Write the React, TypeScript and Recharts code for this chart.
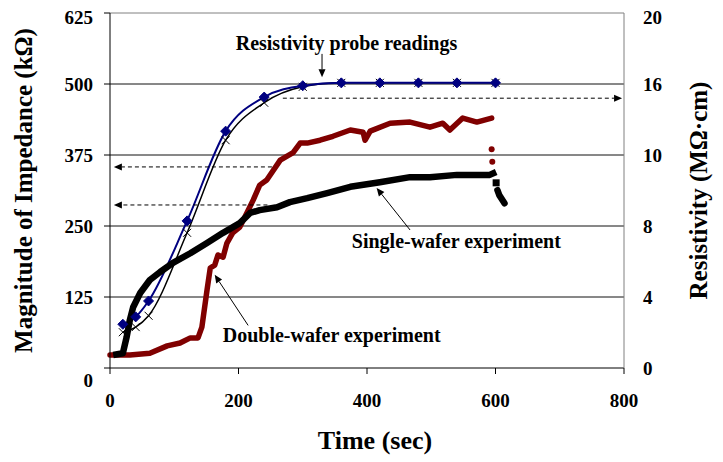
import {
  ComposedChart, Line, XAxis, YAxis, ReferenceLine, ReferenceDot,
} from "recharts"

const FONT = "'Liberation Serif', 'Times New Roman', serif"

const timeTicks = [0, 200, 400, 600, 800]
const impedanceTicks = [0, 125, 250, 375, 500, 625]
const resistivityLabels = ["0", "4", "8", "10", "16", "20"]
const gridValues = [125, 250, 375, 500]

// resistivity probe readings (two fitted curves)
const probeTimes = [20, 40, 60, 120, 180, 240, 300, 360, 420, 480, 540, 600]
const probeBlue = [77, 90, 118, 259, 417, 477, 497, 502, 502, 502, 502, 502]
const probeBlack = [63, 72, 92, 238, 401, 467, 495, 502, 502, 502, 502, 502]

// double-wafer experiment
const doubleTimes = [0, 31, 62, 89, 109, 125, 137, 143, 151, 156, 163, 168, 176, 182, 191, 202, 213, 223, 233, 244, 265, 285, 296, 307, 327, 347, 374, 394, 397, 405, 436, 467, 498, 518, 529, 549, 571, 594]
const doubleValues = [23, 23, 26, 39, 44, 53, 53, 72, 137, 176, 181, 199, 195, 220, 238, 248, 273, 296, 322, 331, 366, 379, 396, 396, 401, 408, 419, 415, 401, 417, 431, 433, 424, 431, 419, 440, 433, 440]
const doubleTailTimes = [594, 595]
const doubleTailValues = [385, 363]

// single-wafer experiment
const singleTimes = [5, 20, 26, 31, 36, 47, 62, 78, 98, 125, 151, 176, 202, 218, 233, 260, 280, 307, 338, 374, 420, 467, 498, 540, 560, 591, 601]
const singleValues = [23, 26, 55, 85, 107, 132, 155, 169, 185, 202, 220, 238, 255, 273, 278, 283, 292, 299, 308, 319, 327, 336, 336, 340, 340, 340, 345]
const singleTailTimes = [603, 606, 610, 614]
const singleTailValues = [313, 304, 297, 290]
const singleDropTimes = [601]
const singleDropValues = [326]

const zip = (ts: number[], vs: number[]) => ts.map((t, i) => ({ t, v: vs[i] }))

const blueData = zip(probeTimes, probeBlue)
const blackProbeData = zip(probeTimes, probeBlack)
const doubleData = zip(doubleTimes, doubleValues)
const doubleTail = zip(doubleTailTimes, doubleTailValues)
const singleData = zip(singleTimes, singleValues)
const singleTail = zip(singleTailTimes, singleTailValues)
const singleDrop = zip(singleDropTimes, singleDropValues)

const Diamond = (p: any) => {
  const { cx, cy, index } = p
  const s = 5
  return <polygon key={`dm-${index}`} points={`${cx},${cy - s} ${cx + s},${cy} ${cx},${cy + s} ${cx - s},${cy}`} fill="#000080" stroke="#000080" />
}

const Cross = (p: any) => {
  const { cx, cy, index } = p
  const s = 4
  return (
    <g key={`x-${index}`}>
      <line x1={cx - s} y1={cy - s} x2={cx + s} y2={cy + s} stroke="#000" strokeWidth={1} />
      <line x1={cx - s} y1={cy + s} x2={cx + s} y2={cy - s} stroke="#000" strokeWidth={1} />
    </g>
  )
}

const RedDot = (p: any) => <circle key={`rd-${p.index}`} cx={p.cx} cy={p.cy} r={3} fill="#800000" />
const BlackSquare = (p: any) => <rect key={`bs-${p.index}`} x={p.cx - 3.5} y={p.cy - 3.5} width={7} height={7} fill="#000" />

// line segment with a filled head at (x2, y2)
const arrow = (dashed: boolean) => (p: any) => {
  const { x1, y1, x2, y2 } = p
  const a = Math.atan2(y2 - y1, x2 - x1)
  const len = 8
  const w = 3.5
  const bx = x2 - len * Math.cos(a)
  const by = y2 - len * Math.sin(a)
  const nx = -Math.sin(a) * w
  const ny = Math.cos(a) * w
  return (
    <g>
      <line x1={x1} y1={y1} x2={bx} y2={by} stroke="#000" strokeWidth={1} strokeDasharray={dashed ? "4 3" : undefined} />
      <polygon points={`${x2},${y2} ${bx + nx},${by + ny} ${bx - nx},${by - ny}`} fill="#000" />
    </g>
  )
}

const LeftTick = (p: any) => {
  const { x, y, payload } = p
  const dy = payload.value === 0 ? 12 : 0
  return (
    <text x={x} y={y + dy} dy="0.35em" textAnchor="end" fontFamily={FONT} fontWeight="bold" fontSize={19} fill="#000">
      {payload.value}
    </text>
  )
}

const RightTick = (p: any) => {
  const { x, y, payload } = p
  return (
    <text x={x} y={y} dy="0.35em" textAnchor="start" fontFamily={FONT} fontWeight="bold" fontSize={19} fill="#000">
      {resistivityLabels[impedanceTicks.indexOf(payload.value)]}
    </text>
  )
}

const textStyle = { fontFamily: FONT, fontWeight: "bold", fill: "#000" }

export default function App() {
  return (
    <div style={{ width: 715, height: 454 }}>
      <ComposedChart width={715} height={454} margin={{ top: 5, right: 0, bottom: 0, left: 0 }}>
        <XAxis
          dataKey="t"
          type="number"
          domain={[0, 800]}
          ticks={timeTicks}
          height={94}
          tickSize={6}
          tickMargin={20}
          stroke="#000"
          tick={{ ...textStyle, fontSize: 19 }}
          label={{ value: "Time (sec)", position: "insideBottom", offset: 13, dx: 8, style: { ...textStyle, fontSize: 26 } }}
        />
        <YAxis
          yAxisId="left"
          type="number"
          domain={[0, 625]}
          ticks={impedanceTicks}
          width={102}
          tickSize={6}
          tickMargin={11}
          stroke="#000"
          tick={<LeftTick />}
          label={{ value: "Magnitude of Impedance (kΩ)", angle: -90, position: "insideLeft", offset: 15, style: { ...textStyle, fontSize: 25, textAnchor: "middle" } }}
        />
        <YAxis
          yAxisId="right"
          orientation="right"
          type="number"
          domain={[0, 625]}
          ticks={impedanceTicks}
          width={99}
          tickLine={false}
          tickSize={0}
          tickMargin={19}
          stroke="#808080"
          tick={<RightTick />}
          label={{ value: "Resistivity (MΩ·cm)", angle: -90, position: "insideRight", offset: 25, style: { ...textStyle, fontSize: 25, textAnchor: "middle" } }}
        />

        {gridValues.map((g) => (
          <ReferenceLine key={g} yAxisId="left" y={g} stroke="#111" strokeWidth={1} />
        ))}
        <ReferenceLine yAxisId="left" y={625} stroke="#808080" strokeWidth={1} />

        {/* probe readings plotted against the resistivity scale */}
        <Line yAxisId="right" data={blackProbeData} dataKey="v" type="monotone" stroke="#000" strokeWidth={1.5} dot={Cross} isAnimationActive={false} />
        <Line yAxisId="right" data={blueData} dataKey="v" type="monotone" stroke="#000080" strokeWidth={2} dot={Diamond} isAnimationActive={false} />

        <Line yAxisId="left" data={doubleData} dataKey="v" type="linear" stroke="#800000" strokeWidth={5.5} strokeLinejoin="round" strokeLinecap="round" dot={false} isAnimationActive={false} />
        <Line yAxisId="left" data={doubleTail} dataKey="v" stroke="none" dot={RedDot} isAnimationActive={false} />

        <Line yAxisId="left" data={singleData} dataKey="v" type="linear" stroke="#000" strokeWidth={6.5} strokeLinejoin="round" dot={false} isAnimationActive={false} />
        <Line yAxisId="left" data={singleTail} dataKey="v" type="linear" stroke="#000" strokeWidth={6.5} strokeLinecap="round" dot={false} isAnimationActive={false} />
        <Line yAxisId="left" data={singleDrop} dataKey="v" stroke="none" dot={BlackSquare} isAnimationActive={false} />

        {/* annotation arrows */}
        <ReferenceLine yAxisId="left" segment={[{ x: 330, y: 553 }, { x: 330, y: 512 }]} shape={arrow(false)} />
        <ReferenceLine yAxisId="left" segment={[{ x: 467, y: 243 }, { x: 415, y: 317 }]} shape={arrow(false)} />
        <ReferenceLine yAxisId="left" segment={[{ x: 215, y: 75 }, { x: 163, y: 164 }]} shape={arrow(false)} />
        <ReferenceLine yAxisId="left" segment={[{ x: 252, y: 354 }, { x: 6, y: 354 }]} shape={arrow(true)} />
        <ReferenceLine yAxisId="left" segment={[{ x: 245, y: 287 }, { x: 6, y: 287 }]} shape={arrow(true)} />
        <ReferenceLine yAxisId="left" segment={[{ x: 269, y: 475 }, { x: 797, y: 475 }]} shape={arrow(true)} />

        <ReferenceDot yAxisId="left" x={368} y={572} r={0} fill="none" stroke="none"
          label={{ value: "Resistivity probe readings", position: "center", style: { ...textStyle, fontSize: 20 } }} />
        <ReferenceDot yAxisId="left" x={539} y={224} r={0} fill="none" stroke="none"
          label={{ value: "Single-wafer experiment", position: "center", style: { ...textStyle, fontSize: 20 } }} />
        <ReferenceDot yAxisId="left" x={345} y={59} r={0} fill="none" stroke="none"
          label={{ value: "Double-wafer experiment", position: "center", style: { ...textStyle, fontSize: 20 } }} />
      </ComposedChart>
    </div>
  )
}
